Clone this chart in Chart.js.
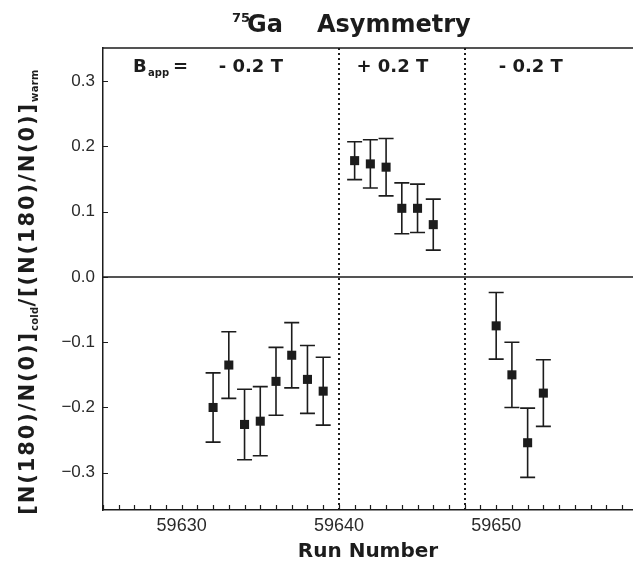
<!DOCTYPE html>
<html>
<head>
<meta charset="utf-8">
<script src="https://cdn.jsdelivr.net/npm/chart.js@4.4.1/dist/chart.umd.min.js"></script>
<style>
  html, body { margin: 0; padding: 0; background: #fff; }
  #wrap { width: 633px; height: 569px; }
</style>
</head>
<body>
<div id="wrap"><canvas id="asymChart" width="633" height="569"></canvas></div>
<script>
// run numbers and measured asymmetry (with symmetric error)
const runNumbers = [59632, 59633, 59634, 59635, 59636, 59637, 59638, 59639,
                    59641, 59642, 59643, 59644, 59645, 59646,
                    59650, 59651, 59652, 59653];
const asymmetry = [-0.200, -0.135, -0.226, -0.221, -0.160, -0.120, -0.157, -0.175,
                   0.178, 0.173, 0.168, 0.105, 0.105, 0.080,
                   -0.075, -0.150, -0.254, -0.178];
const asymError = [0.053, 0.051, 0.054, 0.053, 0.052, 0.050, 0.052, 0.052,
                   0.029, 0.037, 0.044, 0.039, 0.037, 0.039,
                   0.051, 0.050, 0.053, 0.051];

// field reversals and the applied-field labels
const fieldChangeRuns = [59640, 59648];
const fieldLabels = ['- 0.2 T', '+ 0.2 T', '- 0.2 T'];
const fieldLabelRuns = [59634.4, 59643.4, 59652.2];
const fieldLabelLevel = 0.314;

const xLabelTicks = [59630, 59640, 59650];
const yTicks = [-0.3, -0.2, -0.1, 0.0, 0.1, 0.2, 0.3];

const ink = '#1c1c1c';

const fmtY = v => {
  if (Math.abs(v) < 1e-9) return '0.0';
  const s = Math.abs(v).toFixed(1);
  return v < 0 ? '\u2212' + s : s;
};

const asymPlugin = {
  id: 'asymDecor',
  beforeDatasetsDraw(chart) {
    const { ctx, chartArea: a, scales: { x, y } } = chart;
    ctx.save();
    ctx.strokeStyle = ink;

    // frame top + zero line
    ctx.lineWidth = 1.5;
    ctx.beginPath();
    ctx.moveTo(a.left, a.top); ctx.lineTo(a.right, a.top);
    const y0 = y.getPixelForValue(0);
    ctx.moveTo(a.left, y0); ctx.lineTo(a.right, y0);
    ctx.stroke();

    // dotted field-change lines
    ctx.setLineDash([2, 3]);
    ctx.lineWidth = 2;
    fieldChangeRuns.forEach(r => {
      const px = Math.round(x.getPixelForValue(r));
      ctx.beginPath();
      ctx.moveTo(px, a.top); ctx.lineTo(px, a.bottom);
      ctx.stroke();
    });
    ctx.setLineDash([]);

    // error bars
    ctx.lineWidth = 1.6;
    runNumbers.forEach((r, i) => {
      const px = x.getPixelForValue(r);
      const yt = y.getPixelForValue(asymmetry[i] + asymError[i]);
      const yb = y.getPixelForValue(asymmetry[i] - asymError[i]);
      ctx.beginPath();
      ctx.moveTo(px, yt); ctx.lineTo(px, yb);
      ctx.moveTo(px - 7.5, yt); ctx.lineTo(px + 7.5, yt);
      ctx.moveTo(px - 7.5, yb); ctx.lineTo(px + 7.5, yb);
      ctx.stroke();
    });
    ctx.restore();
  },
  afterDraw(chart) {
    const { ctx, chartArea: a, scales: { x, y } } = chart;
    ctx.save();

    // inward ticks
    ctx.strokeStyle = ink;
    ctx.lineWidth = 1.2;
    ctx.beginPath();
    x.ticks.forEach(t => {
      const px = Math.round(x.getPixelForValue(t.value)) + 0.5;
      ctx.moveTo(px, a.bottom); ctx.lineTo(px, a.bottom - 5);
    });
    y.ticks.forEach(t => {
      const py = Math.round(y.getPixelForValue(t.value)) + 0.5;
      ctx.moveTo(a.left, py); ctx.lineTo(a.left + 5, py);
    });
    ctx.stroke();

    ctx.fillStyle = ink;
    ctx.textBaseline = 'alphabetic';

    // title
    ctx.textAlign = 'left';
    ctx.font = 'bold 13px "DejaVu Sans"';
    ctx.fillText('75', 232, 22);
    ctx.font = 'bold 24px "DejaVu Sans"';
    ctx.fillText('Ga', 247, 32);
    ctx.fillText('Asymmetry', 317, 32);

    // B_app =
    const ly = y.getPixelForValue(fieldLabelLevel);
    ctx.font = 'bold 18px "DejaVu Sans"';
    ctx.fillText('B', 133, ly);
    ctx.font = 'bold 10px "DejaVu Sans"';
    ctx.fillText('app', 148, ly + 4);
    ctx.font = 'bold 18px "DejaVu Sans"';
    ctx.fillText('=', 173, ly);
    ctx.textAlign = 'center';
    fieldLabels.forEach((s, i) => {
      ctx.fillText(s, x.getPixelForValue(fieldLabelRuns[i]), ly);
    });

    // x title
    ctx.font = 'bold 20px "DejaVu Sans"';
    ctx.fillText('Run Number', 368, 557);

    // y title with subscripts
    const parts = [
      { t: '[N(180)/N(0)]', sub: false },
      { t: 'cold', sub: true },
      { t: '/[(N(180)/N(0)]', sub: false },
      { t: 'warm', sub: true }
    ];
    const setFont = p => {
      ctx.font = p.sub ? 'bold 10px "DejaVu Sans"' : 'bold 21px "DejaVu Sans"';
      ctx.letterSpacing = p.sub ? '0.3px' : '1.9px';
    };
    let total = 0;
    parts.forEach(p => { setFont(p); p.w = ctx.measureText(p.t).width; total += p.w; });
    ctx.translate(34, 292);
    ctx.rotate(-Math.PI / 2);
    ctx.textAlign = 'left';
    let cx = -total / 2;
    parts.forEach(p => {
      setFont(p);
      ctx.fillText(p.t, cx, p.sub ? 4 : 0);
      cx += p.w;
    });
    ctx.restore();
  }
};

new Chart(document.getElementById('asymChart'), {
  type: 'scatter',
  data: {
    datasets: [{
      label: 'Asymmetry',
      data: runNumbers.map((r, i) => ({ x: r, y: asymmetry[i] })),
      pointStyle: 'rect',
      pointRadius: 6.4,
      pointHoverRadius: 6.4,
      backgroundColor: ink,
      borderColor: ink,
      borderWidth: 0
    }]
  },
  options: {
    responsive: false,
    animation: false,
    layout: { autoPadding: false, padding: { top: 48, left: 0, right: 0, bottom: 0 } },
    plugins: { legend: { display: false }, tooltip: { enabled: false } },
    scales: {
      x: {
        type: 'linear',
        min: 59625,
        max: 59658.7,
        afterFit: s => { s.height = 59; s.paddingLeft = 0; s.paddingRight = 0; },
        grid: { drawOnChartArea: false, drawTicks: false },
        border: { display: true, color: ink, width: 1.5 },
        ticks: {
          stepSize: 1,
          includeBounds: false,
          autoSkip: false,
          maxRotation: 0,
          padding: 5,
          color: '#2a2a2a',
          font: { family: 'Liberation Sans', size: 18 },
          callback: v => xLabelTicks.includes(v) ? String(v) : ''
        }
      },
      y: {
        min: -0.357,
        max: 0.3505,
        afterFit: s => { s.width = 103; s.paddingTop = 0; s.paddingBottom = 0; },
        afterBuildTicks: s => { s.ticks = yTicks.map(v => ({ value: v })); },
        grid: { drawOnChartArea: false, drawTicks: false },
        border: { display: true, color: ink, width: 1.5 },
        ticks: {
          padding: 8,
          color: '#2a2a2a',
          font: { family: 'Liberation Sans', size: 17 },
          callback: v => fmtY(v)
        }
      }
    }
  },
  plugins: [asymPlugin]
});
</script>
</body>
</html>
